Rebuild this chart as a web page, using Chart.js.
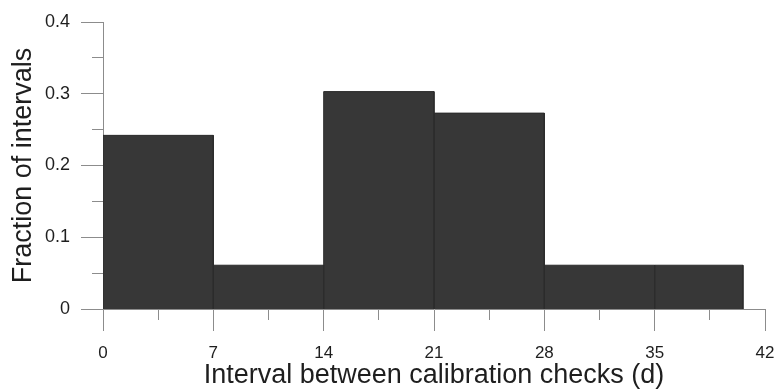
<!DOCTYPE html>
<html>
<head>
<meta charset="utf-8">
<script src="https://cdn.jsdelivr.net/npm/chart.js@4/dist/chart.umd.min.js"></script>
<style>
  html, body { margin: 0; padding: 0; background: #ffffff; overflow: hidden; }
  #wrap { width: 778px; height: 390px; }
</style>
</head>
<body>
<div id="wrap"><canvas id="hist" width="778" height="390"></canvas></div>
<script>
// Histogram of the interval between calibration checks, in days
const binEdges = [0, 7, 14, 21, 28, 35, 40.6];
const fractions = [0.242, 0.061, 0.303, 0.273, 0.061, 0.061];

// Axis ticks: labelled major ticks and unlabelled minor ticks
const xMajorTicks = [0, 7, 14, 21, 28, 35, 42];
const xTickLabels = ['0', '7', '14', '21', '28', '35', '42'];
const xMinorTicks = [0, 3.5, 7, 10.5, 14, 17.5, 21, 24.5, 28, 31.5, 35, 38.5, 42];
const yMajorTicks = [0, 0.1, 0.2, 0.3, 0.4];
const yTickLabels = ['0', '0.1', '0.2', '0.3', '0.4'];
const yMinorTicks = [0, 0.05, 0.1, 0.15, 0.2, 0.25, 0.3, 0.35, 0.4];

const FONT = "'Liberation Sans', Arial, Helvetica, sans-serif";
const AXIS_GREY = '#8c8c8c';
const BAR_FILL = '#373737';
const BAR_EDGE = '#2c2c2c';
const TEXT = '#1e1e1e';

// one closed rectangle per bin, drawn on the linear x/y scales
const datasets = fractions.map((v, i) => ({
  data: [
    { x: binEdges[i], y: 0 },
    { x: binEdges[i], y: v },
    { x: binEdges[i + 1], y: v },
    { x: binEdges[i + 1], y: 0 }
  ],
  fill: 'origin',
  backgroundColor: BAR_FILL,
  borderColor: BAR_EDGE,
  borderWidth: 1,
  pointRadius: 0,
  tension: 0
}));

const setTicks = (values) => (scale) => {
  scale.ticks = values.map(v => ({ value: v }));
};

const tickOnly = (len) => ({
  display: true,
  drawOnChartArea: false,
  drawTicks: true,
  tickLength: len,
  color: AXIS_GREY,
  lineWidth: 1
});

// the last x label is allowed to run off the right edge
const noSidePadding = (h) => (s) => {
  s.height = h;
  s.paddingLeft = 0;
  s.paddingRight = 0;
};

new Chart(document.getElementById('hist'), {
  type: 'line',
  data: { datasets },
  options: {
    responsive: false,
    animation: false,
    devicePixelRatio: 1,
    layout: { padding: { top: 22, right: 13, bottom: 0, left: 0 } },
    plugins: {
      legend: { display: false },
      tooltip: { enabled: false }
    },
    scales: {
      x: {
        type: 'linear',
        position: 'bottom',
        weight: 0,
        min: 0,
        max: 42,
        afterBuildTicks: setTicks(xMinorTicks),
        ticks: { display: false },
        grid: tickOnly(11),
        border: { display: true, color: AXIS_GREY, width: 1 },
        afterFit: noSidePadding(11)
      },
      xMajor: {
        type: 'linear',
        position: 'bottom',
        weight: 1,
        min: 0,
        max: 42,
        afterBuildTicks: setTicks(xMajorTicks),
        ticks: {
          padding: 12,
          maxRotation: 0,
          autoSkip: false,
          color: TEXT,
          font: { family: FONT, size: 17 },
          callback: (val, idx) => xTickLabels[idx]
        },
        grid: tickOnly(11),
        border: { display: false },
        title: {
          display: true,
          text: 'Interval between calibration checks (d)',
          color: TEXT,
          font: { family: FONT, size: 27 },
          padding: { top: 0, bottom: -2 }
        },
        afterFit: noSidePadding(70)
      },
      y: {
        type: 'linear',
        position: 'left',
        weight: 0,
        min: 0,
        max: 0.4,
        afterBuildTicks: setTicks(yMinorTicks),
        ticks: { display: false },
        grid: tickOnly(11),
        border: { display: true, color: AXIS_GREY, width: 1 },
        afterFit: (s) => { s.width = 11; }
      },
      yMajor: {
        type: 'linear',
        position: 'left',
        weight: 1,
        min: 0,
        max: 0.4,
        afterBuildTicks: setTicks(yMajorTicks),
        ticks: {
          padding: 11,
          autoSkip: false,
          color: TEXT,
          font: { family: FONT, size: 18 },
          callback: (val, idx) => yTickLabels[idx]
        },
        grid: tickOnly(11),
        border: { display: false },
        title: {
          display: true,
          text: 'Fraction of intervals',
          color: TEXT,
          font: { family: FONT, size: 27 },
          padding: { top: 7, bottom: 0 }
        },
        afterFit: (s) => { s.width = 92; }
      }
    }
  }
});
</script>
</body>
</html>
